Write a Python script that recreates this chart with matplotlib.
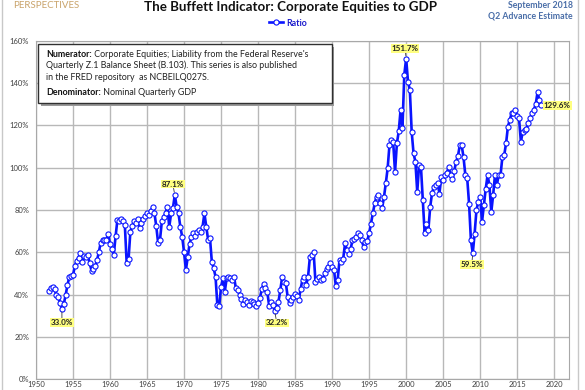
import numpy as np
import matplotlib.pyplot as plt
from matplotlib.patches import Rectangle
from matplotlib.ticker import FuncFormatter

plt.rcParams['font.family'] = ['Lato', 'DejaVu Sans']

# Corporate equities / GDP in %, quarterly from 1951 Q4 to 2018 Q2
first_quarter = 1951.75
ratio = [
    41.6,                            # 1951
    42.9, 43.7, 42.5, 40.0,          # 1952
    38.6, 36.2, 33.0, 35.4,          # 1953
    39.7, 44.4, 48.4, 48.8,          # 1954
    49.2, 53.5, 56.0, 57.5,          # 1955
    59.8, 55.6, 58.3, 57.6,          # 1956
    58.6, 54.8, 51.3, 51.9,          # 1957
    53.5, 56.3, 60.3, 64.6,          # 1958
    65.6, 66.0, 65.9, 68.7,          # 1959
    64.0, 61.5, 58.7, 67.5,          # 1960
    75.4, 75.0, 75.7, 74.6,          # 1961
    73.0, 54.8, 56.7, 69.8,          # 1962
    72.5, 74.6, 74.0, 75.7,          # 1963
    71.4, 74.0, 75.7, 77.0,          # 1964
    78.6, 77.8, 79.5, 81.4,          # 1965
    78.6, 72.2, 64.3, 65.9,          # 1966
    74.6, 76.5, 78.6, 81.4,          # 1967
    72.0, 78.4, 81.0, 87.1,          # 1968
    81.6, 78.4, 72.0, 67.3,          # 1969
    60.0, 51.6, 57.9, 64.1,          # 1970
    67.0, 69.0, 67.5, 69.8,          # 1971
    70.6, 69.8, 72.0, 78.4,          # 1972
    72.0, 65.9, 66.7, 55.6,          # 1973
    52.4, 48.5, 35.0, 34.4,          # 1974
    43.7, 47.6, 41.3, 47.6,          # 1975
    48.1, 47.6, 47.0, 48.4,          # 1976
    42.9, 42.1, 40.0, 38.1,          # 1977
    35.4, 37.3, 36.5, 34.9,          # 1978
    37.0, 36.5, 35.5, 34.4,          # 1979
    36.0, 38.5, 42.5, 45.0,          # 1980
    43.0, 41.0, 34.6, 36.5,          # 1981
    35.0, 32.2, 33.5, 36.5,          # 1982
    42.0, 48.2, 46.0, 45.5,          # 1983
    38.7, 35.8, 37.5, 38.7,          # 1984
    40.3, 39.5, 37.3, 42.8,          # 1985
    47.0, 48.4, 44.4, 48.4,          # 1986
    57.8, 58.5, 60.2, 46.0,          # 1987
    47.5, 48.4, 46.8, 47.5,          # 1988
    50.0, 52.0, 53.1, 55.0,          # 1989
    53.0, 51.8, 44.0, 47.0,          # 1990
    56.3, 55.5, 57.0, 64.2,          # 1991
    61.0, 59.4, 61.5, 65.7,          # 1992
    66.5, 67.3, 68.9, 68.0,          # 1993
    65.7, 62.6, 65.0, 65.5,          # 1994
    68.9, 73.6, 78.4, 83.1,          # 1995
    86.3, 87.0, 83.1, 80.8,          # 1996
    86.0, 92.6, 99.7, 110.8,         # 1997
    113.1, 112.0, 98.0, 111.5,       # 1998
    117.2, 127.4, 118.7, 144.0,      # 1999
    151.7, 140.8, 136.8, 117.0,      # 2000
    106.8, 102.9, 88.6, 101.3,       # 2001
    100.5, 84.7, 69.0, 73.6,         # 2002
    70.5, 81.5, 88.0, 91.0,          # 2003
    92.0, 92.6, 87.8, 95.7,          # 2004
    94.0, 96.5, 97.5, 100.4,         # 2005
    96.5, 94.5, 98.5, 102.8,         # 2006
    105.5, 110.7, 110.7, 105.0,      # 2007
    96.5, 95.0, 83.0, 65.7,          # 2008
    59.5, 68.8, 80.0, 83.9,          # 2009
    86.2, 74.4, 82.3, 90.0,          # 2010
    96.5, 91.8, 79.0, 87.0,          # 2011
    96.5, 91.8, 96.5, 96.5,          # 2012
    105.0, 106.0, 111.6, 119.5,      # 2013
    122.6, 125.8, 125.8, 127.4,      # 2014
    124.5, 123.4, 112.3, 117.0,      # 2015
    117.8, 118.5, 121.2, 123.5,      # 2016
    126.0, 127.4, 130.0, 135.7,      # 2017
    132.0, 129.6,                    # 2018
]
x_ticks = list(range(1950, 2021, 5))
y_ticks = list(range(0, 161, 20))

# highlighted highs and lows
callout_quarters = [1953.5, 1968.75, 1982.25, 2000.0, 2009.0, 2018.25]
callout_labels = ['33.0%', '87.1%', '32.2%', '151.7%', '59.5%', '129.6%']
callout_offsets = [(0, -13), (-2, 11), (2, -12), (-1, 10), (-1, -11), (16, 0)]

quarters = first_quarter + 0.25 * np.arange(len(ratio))

fig = plt.figure(figsize=(5.85, 3.9), dpi=100)
W, H = 585, 390
ax = fig.add_axes([36 / W, 1 - 379 / H, (569 - 36) / W, (379 - 41) / H])

blue = '#0a14ff'
ax.plot(quarters, ratio, color=blue, lw=1.9, marker='o', ms=3.7,
        mfc='white', mec=blue, mew=0.8, zorder=3)

ax.set_xlim(1950, 2022)
ax.set_ylim(0, 160)
ax.set_xticks(x_ticks)
ax.set_yticks(y_ticks)
ax.yaxis.set_major_formatter(FuncFormatter(lambda v, p: f'{v:.0f}%'))
ax.grid(True, color='#b8b8b8', lw=1, zorder=0)
ax.tick_params(length=0, labelsize=5.5, colors='#404040')
ax.tick_params(axis='y', pad=5)
ax.tick_params(axis='x', pad=1.5)
for s in ax.spines.values():
    s.set_color('#a8a8a8')

for q, lab, off in zip(callout_quarters, callout_labels, callout_offsets):
    i = int(round((q - first_quarter) * 4))
    arrow = None if off[1] == 0 else dict(arrowstyle='-', color='#333333', lw=0.6,
                                          shrinkA=0, shrinkB=2)
    ax.annotate(lab, (quarters[i], ratio[i]), xytext=off, textcoords='offset pixels',
                ha='center', va='center', fontsize=5.8,
                fontweight='bold', color='#222222',
                bbox=dict(boxstyle='square,pad=0.1', fc='#ffff80', ec='none'),
                arrowprops=arrow, zorder=5)

# note box
ax.add_patch(Rectangle((0.009, 0.808), 0.551, 0.174, transform=ax.transAxes,
                       fc='#9a9a9a', ec='none', zorder=6, clip_on=False))
ax.add_patch(Rectangle((0.004, 0.817), 0.551, 0.174, transform=ax.transAxes,
                       fc='white', ec='#303030', lw=1, zorder=7, clip_on=False))
note = [('Numerator:', ' Corporate Equities; Liability from the Federal Reserve\'s', 0.959),
        ('', 'Quarterly Z.1 Balance Sheet (B.103). This series is also published', 0.927),
        ('', 'in the FRED repository  as NCBEILQ027S.', 0.893),
        ('Denominator:', ' Nominal Quarterly GDP', 0.848)]
for bold, rest, y in note:
    t = ax.text(0.019, y, bold, transform=ax.transAxes, fontsize=6.4,
                fontweight='bold', va='center', color='#111111', zorder=8)
    ax.annotate(rest, xy=(1, 0.5), xycoords=t, va='center', fontsize=6.4,
                color='#222222', zorder=8)

# header texts
fig.text(0.496, 1 - 11 / H, 'The Buffett Indicator: Corporate Equities to GDP',
         ha='center', va='baseline', fontsize=9.6, fontweight='bold', color='#111111')
fig.text(573 / W, 1 - 6 / H, 'September 2018', ha='right', va='center',
         fontsize=6.3, fontweight='bold', color='#4a6ea8')
fig.text(573 / W, 1 - 16 / H, 'Q2 Advance Estimate', ha='right', va='center',
         fontsize=6.3, fontweight='bold', color='#4a6ea8')
fig.text(13 / W, 1 - 8 / H, 'PERSPECTIVES', ha='left', va='baseline',
         fontsize=7, color='#c9a36a')

h, = ax.plot([], [], color=blue, lw=1.9, marker='o', ms=3.7, mfc='white', mec=blue, mew=0.8)
fig.legend([h], ['Ratio'], loc='center', bbox_to_anchor=(288 / W, 1 - 23 / H),
           frameon=False, handlelength=1.6, handletextpad=0.3,
           prop={'weight': 'bold', 'size': 6.3}, labelcolor='#1a1acc')

fig.add_artist(Rectangle((2 / W, -0.1), 576 / W, 1.2, transform=fig.transFigure,
                         fc='none', ec='#c8c8c8', lw=1))

fig.savefig('out.png', dpi=100)
